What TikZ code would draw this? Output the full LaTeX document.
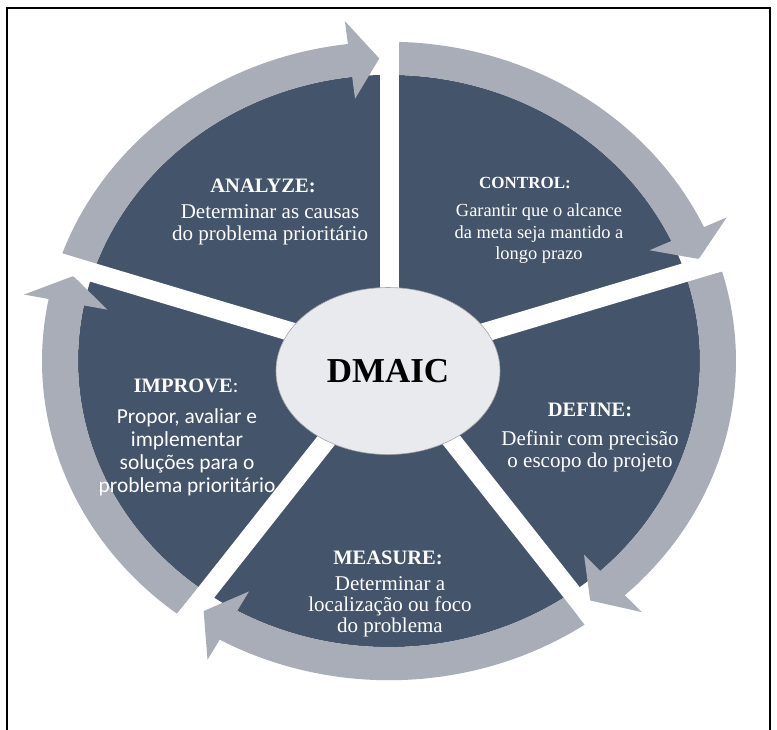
\documentclass[tikz,border=0pt]{standalone}
\usepackage{fontspec}
\setmainfont{Liberation Serif}
\newfontfamily\calibri{Carlito}
\usetikzlibrary{shapes.geometric}
\definecolor{slate}{HTML}{44546A}
\definecolor{steel}{HTML}{A9ADB7}
\definecolor{pale}{HTML}{E8EAEE}
\newcommand{\ringarrow}[1]{%
  \fill[steel] (#1-1.7:347) arc[start angle=#1-1.7, end angle=#1-65.2, radius=347]
    -- (#1-65.2:372) -- (#1-70.3:329) -- (#1-65.2:287) -- (#1-65.2:311)
    arc[start angle=#1-65.2, end angle=#1-1.7, radius=311] -- cycle;}

\begin{document}
\begin{tikzpicture}[x=1pt,y=-1pt,
    spoke/.style={white,line width=19pt},
    stagetitle/.style={text=white,inner sep=0pt,font=\rmfamily\bfseries\fontsize{20.5}{22}\selectfont},
    stagetext/.style={text=white,inner sep=0pt,align=center,font=\rmfamily\fontsize{21}{22}\selectfont}]
	 \useasboundingbox (0,0) rectangle (777,729);
	 \fill[white] (0,0) rectangle (777,729);

	 \begin{scope}[shift={(389,361)},yscale=-0.92]
	   \fill[slate] (0,0) circle[radius=311];
	   \ringarrow{90}
	   \ringarrow{18}
	   \ringarrow{-54}
	   \ringarrow{-126}
	   \ringarrow{162}
	   \draw[spoke] (0,0) -- (90:376);
	   \draw[spoke] (0,0) -- (18:376);
	   \draw[spoke] (0,0) -- (-54:376);
	   \draw[spoke] (0,0) -- (-126:376);
	   \draw[spoke] (0,0) -- (162:376);
	 \end{scope}
	 \draw[line width=2.5pt] (7,735) -- (7,8) -- (770,8) -- (770,735);

	 \node at (388,371) [ellipse,fill=pale,draw=gray!70,line width=0.6pt,
	   minimum width=224pt,minimum height=167pt,
	   font=\bfseries\fontsize{35}{40}\selectfont] (hub) {DMAIC};

	 \node at (263,186) [stagetitle] (analyze) {ANALYZE:};
	 \node at (270,225) [stagetext] (analyzetext) {Determinar as causas\\do problema prioritário};

	 \node at (525,183) [stagetitle,font=\bfseries\fontsize{17}{20}\selectfont] (control) {CONTROL:};
	 \node at (539,234) [stagetext,font=\fontsize{18.4}{21.5}\selectfont] (controltext)
	   {Garantir que o alcance\\da meta seja mantido a\\longo prazo};

	 \node at (590,410) [stagetitle] (define) {DEFINE:};
	 \node at (590,451) [stagetext] (definetext) {Definir com precisão\\o escopo do projeto};

	 \node at (388,558) [stagetitle] (measure) {MEASURE:};
	 \node at (390,607) [stagetext,font=\fontsize{21}{21}\selectfont] (measuretext)
	   {Determinar a\\localização ou foco\\do problema};

	 \node at (186,386) [stagetitle] (improve) {IMPROVE{\calibri\mdseries:}};
	 \node at (187,452) [stagetext,font=\calibri\fontsize{21.4}{23}\selectfont] (improvetext)
	   {Propor, avaliar e\\implementar\\soluções para o\\problema prioritário};
\end{tikzpicture}
\end{document}
